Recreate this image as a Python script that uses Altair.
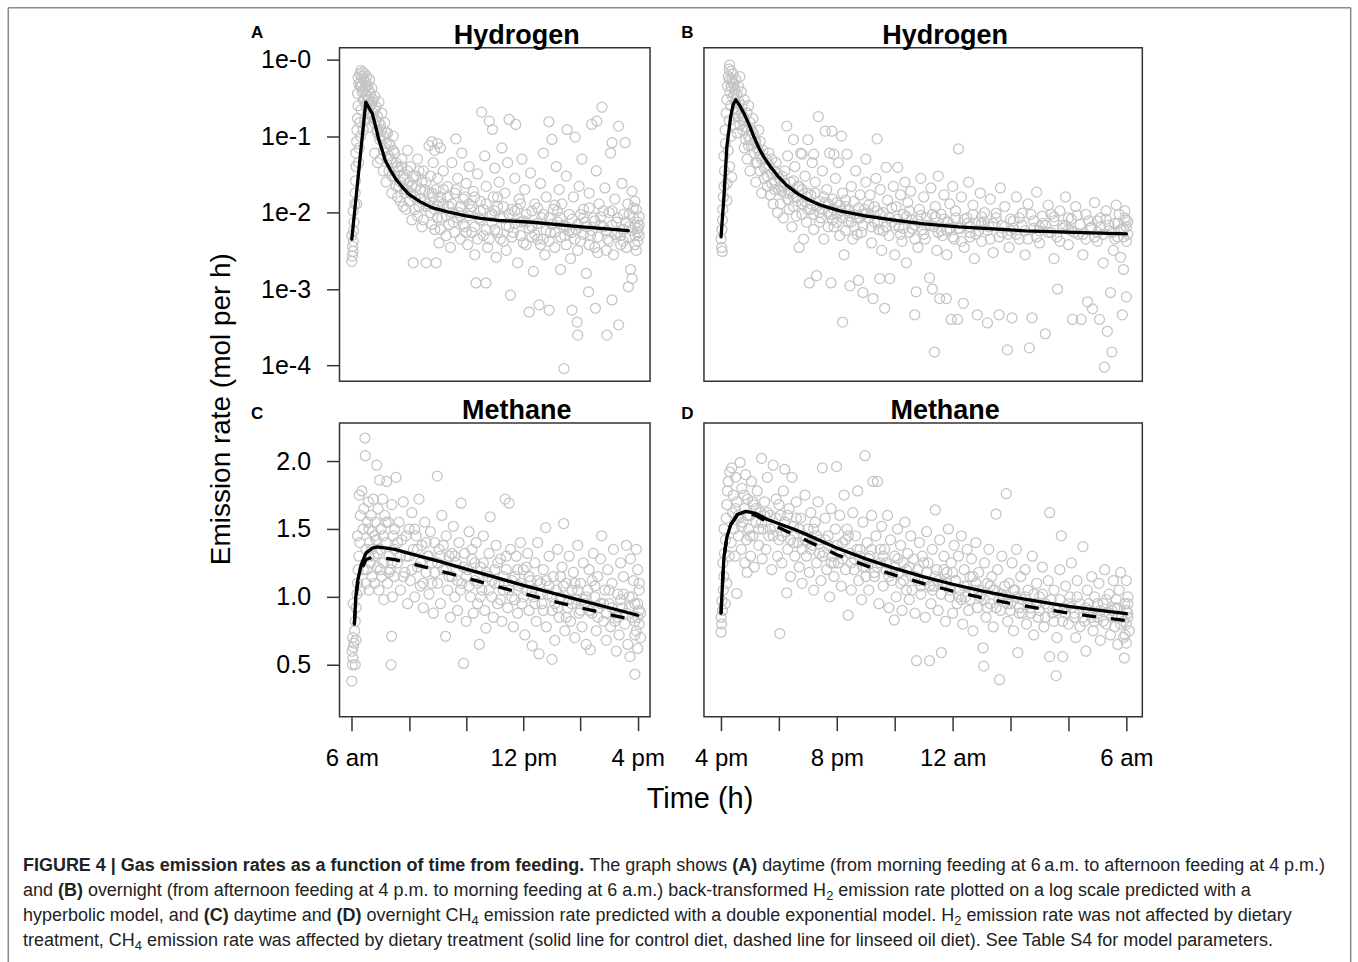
import altair as alt
import pandas as pd

FONT = "Liberation Sans"
FRAME = "#333333"
DOT = "#c4c4c4"

# ---------------- fitted model curves (hours after feeding, mol per h) ----------------
H2_DAY_FIT_HOURS = [0, 0.25, 0.49, 0.6, 0.72, 0.85, 0.95, 1.05, 1.17, 1.35, 1.53, 1.75, 1.99,
                    2.4, 2.8, 3.4, 3.96, 4.5, 5.12, 6.31, 8.05, 9.67]
H2_DAY_FIT_RATE = [0.0045, 0.037, 0.278, 0.235, 0.195, 0.126, 0.088, 0.068, 0.048, 0.036, 0.0277,
                   0.0219, 0.0174, 0.0138, 0.0116, 0.0101, 0.0091, 0.0084, 0.0079, 0.00747, 0.0065, 0.0058]

H2_NIGHT_FIT_HOURS = [0, 0.1, 0.2, 0.33, 0.42, 0.51, 0.65, 0.8, 0.97, 1.14, 1.3, 1.48, 1.7, 1.94,
                      2.25, 2.63, 3.0, 3.44, 4.1, 4.93, 5.91, 7.0, 8.22, 10.5, 12.2, 14.0]
H2_NIGHT_FIT_RATE = [0.0048, 0.016, 0.072, 0.177, 0.26, 0.298, 0.25, 0.195, 0.14, 0.097, 0.071,
                     0.053, 0.04, 0.0307, 0.023, 0.0178, 0.0148, 0.0125, 0.0105, 0.0091, 0.008,
                     0.0071, 0.0065, 0.00577, 0.0055, 0.00527]

CH4_DAY_FIT_HOURS = [0.09, 0.14, 0.2, 0.33, 0.5, 0.73, 0.9, 1.5, 2, 3, 4, 5, 6, 7, 8, 9, 10]
CH4_DAY_CONTROL = [0.8, 1.0, 1.115, 1.238, 1.324, 1.36, 1.368, 1.35, 1.32, 1.265, 1.205, 1.145,
                   1.085, 1.03, 0.975, 0.92, 0.865]
CH4_DAY_LINSEED = [0.8, 0.98, 1.09, 1.2, 1.275, 1.294, 1.293, 1.275, 1.25, 1.195, 1.14, 1.08,
                   1.025, 0.97, 0.92, 0.87, 0.825]

CH4_NIGHT_FIT_HOURS = [0, 0.05, 0.1, 0.2, 0.33, 0.56, 0.85, 1.2, 1.6, 2.5, 3, 4, 5, 6, 7, 8, 9,
                       10, 11, 12, 13, 14]
CH4_NIGHT_CONTROL = [0.88, 1.1, 1.29, 1.44, 1.53, 1.606, 1.63, 1.615, 1.57, 1.5, 1.455, 1.36,
                     1.28, 1.21, 1.148, 1.093, 1.045, 1.002, 0.965, 0.931, 0.902, 0.876]
CH4_NIGHT_LINSEED = [0.88, 1.1, 1.29, 1.44, 1.53, 1.6, 1.62, 1.6, 1.55, 1.46, 1.41, 1.31, 1.23,
                     1.16, 1.098, 1.043, 0.995, 0.952, 0.915, 0.881, 0.852, 0.826]

# ---------------- observations (hour, rate) ----------------
H2_DAY_OBS = [
    (0.0, 0.0023), (0.02, 0.0027), (0.04, 0.0031), (0.03, 0.0036), (0.05, 0.0042), (0.0, 0.005),
    (0.06, 0.0058), (0.08, 0.0075), (0.05, 0.0105), (0.1, 0.013), (0.12, 0.018), (0.13, 0.026),
    (0.15, 0.04), (0.14, 0.06), (0.17, 0.085), (0.18, 0.12), (0.2, 0.17), (0.22, 0.25), (0.2, 0.36),
    (0.24, 0.48), (0.22, 0.58), (0.28, 0.65), (0.32, 0.72), (0.35, 0.6), (0.38, 0.68), (0.42, 0.55),
    (0.45, 0.65), (0.3, 0.45), (0.36, 0.38), (0.4, 0.3), (0.33, 0.22), (0.28, 0.15), (0.3, 0.1),
    (0.26, 0.07), (0.24, 0.045), (0.45, 0.42), (0.48, 0.5), (0.5, 0.35), (0.52, 0.6), (0.55, 0.46),
    (0.58, 0.4), (0.6, 0.3), (0.62, 0.55), (0.65, 0.36), (0.5, 0.25), (0.55, 0.2), (0.45, 0.16),
    (0.6, 0.13), (0.4, 0.12), (0.17, 0.013),
    (0.7, 0.42), (0.72, 0.28), (0.75, 0.2), (0.78, 0.15), (0.8, 0.33), (0.85, 0.24), (0.88, 0.12),
    (0.9, 0.18), (0.95, 0.28), (0.98, 0.09), (1.0, 0.14), (1.05, 0.2), (1.1, 0.1), (1.1, 0.065),
    (1.15, 0.15), (1.2, 0.08), (1.25, 0.11), (1.3, 0.055), (1.3, 0.035), (1.35, 0.075), (1.4, 0.045),
    (1.45, 0.1), (0.8, 0.06), (0.9, 0.045), (1.0, 0.05), (1.2, 0.025), (1.4, 0.018), (1.5, 0.03),
    (1.5, 0.06),
    (1.6, 0.04), (1.65, 0.022), (1.7, 0.014), (1.75, 0.05), (1.8, 0.03), (1.85, 0.018), (1.9, 0.011),
    (1.95, 0.065), (2.0, 0.025), (2.05, 0.04), (2.1, 0.008), (2.15, 0.0022), (2.2, 0.016),
    (2.25, 0.03), (2.3, 0.05), (2.35, 0.012), (2.4, 0.02), (2.45, 0.0065), (2.5, 0.035),
    (2.55, 0.014), (2.6, 0.0022), (2.6, 0.025), (2.7, 0.075), (2.75, 0.01), (2.8, 0.018),
    (2.85, 0.045), (2.9, 0.006), (2.95, 0.0022), (3.0, 0.028), (3.0, 0.012), (2.9, 0.065),
    (3.05, 0.004), (2.8, 0.085), (3.1, 0.07), (3.0, 0.08),
    (3.1, 0.016), (3.15, 0.0085), (3.2, 0.035), (3.3, 0.005), (3.35, 0.022), (3.4, 0.012),
    (3.45, 0.0035), (3.5, 0.045), (3.55, 0.0075), (3.6, 0.018), (3.64, 0.092), (3.7, 0.028),
    (3.75, 0.01), (3.8, 0.0045), (3.85, 0.06), (3.9, 0.015), (3.95, 0.0065), (4.0, 0.024),
    (4.05, 0.0038), (4.1, 0.04), (4.15, 0.011), (4.2, 0.0055), (4.25, 0.019), (4.3, 0.0028),
    (4.34, 0.0012), (4.4, 0.032), (4.45, 0.0085), (4.5, 0.014), (4.54, 0.206), (4.6, 0.005),
    (4.65, 0.055), (4.69, 0.0012), (4.7, 0.022), (4.75, 0.0035), (4.81, 0.157), (4.85, 0.009),
    (4.92, 0.122), (4.95, 0.016), (5.0, 0.006), (5.0, 0.038),
    (5.05, 0.0026), (5.1, 0.012), (5.15, 0.025), (5.2, 0.0045), (5.25, 0.07), (5.3, 0.0085),
    (5.35, 0.018), (5.4, 0.0032), (5.45, 0.045), (5.5, 0.165), (5.55, 0.00083), (5.6, 0.011),
    (5.65, 0.0055), (5.7, 0.028), (5.73, 0.142), (5.8, 0.0022), (5.85, 0.015), (5.9, 0.0075),
    (5.95, 0.05), (6.0, 0.004), (6.05, 0.02), (6.1, 0.0095), (6.2, 0.0005), (6.25, 0.033),
    (6.3, 0.0065), (6.35, 0.0017), (6.4, 0.013), (6.5, 0.0045), (6.55, 0.00062), (6.6, 0.024),
    (6.65, 0.0085), (6.7, 0.06), (6.75, 0.0028), (6.8, 0.016), (6.89, 0.154), (6.9, 0.00053),
    (6.95, 0.0055), (7.0, 0.0905), (7.05, 0.011), (7.1, 0.0035), (7.15, 0.04), (7.2, 0.0075),
    (7.25, 0.02), (7.3, 0.0018), (7.35, 0.013), (7.42, 0.000091), (7.45, 0.005),
    (7.5, 0.03), (7.53, 0.122), (7.6, 0.0095), (7.65, 0.0025), (7.7, 0.00053), (7.75, 0.016),
    (7.81, 0.097), (7.85, 0.006), (7.88, 0.00037), (7.9, 0.00025), (7.95, 0.022), (8.0, 0.0042),
    (8.05, 0.05), (8.1, 0.011), (8.15, 0.0075), (8.2, 0.0016), (8.28, 0.00092), (8.3, 0.018),
    (8.35, 0.005), (8.39, 0.142), (8.45, 0.0085), (8.52, 0.00056), (8.55, 0.035), (8.57, 0.157),
    (8.6, 0.003), (8.65, 0.013), (8.75, 0.239), (8.8, 0.0065), (8.85, 0.021), (8.92, 0.00025),
    (8.95, 0.0045), (9.0, 0.01), (9.05, 0.06), (9.1, 0.00072), (9.1, 0.082), (9.15, 0.0028),
    (9.2, 0.015), (9.25, 0.0075), (9.33, 0.135), (9.33, 0.00034), (9.4, 0.005), (9.45, 0.024),
    (9.5, 0.0095), (9.56, 0.082), (9.6, 0.0035), (9.65, 0.013), (9.67, 0.00107), (9.7, 0.0065),
    (9.75, 0.0018), (9.8, 0.00137), (9.8, 0.019), (9.85, 0.0085), (9.9, 0.005), (9.95, 0.011),
    (10.0, 0.0055), (10.0, 0.0075), (9.95, 0.0032), (9.9, 0.014), (10.0, 0.0042),
    (1.1, 0.035), (1.25, 0.05), (1.4, 0.03), (1.55, 0.022), (1.6, 0.016), (1.7, 0.025), (1.8, 0.012),
    (1.9, 0.02), (2.0, 0.014), (2.1, 0.022), (2.2, 0.011), (2.3, 0.009), (2.4, 0.015), (2.5, 0.008),
    (2.6, 0.012), (2.7, 0.018), (2.8, 0.007), (2.9, 0.011), (3.0, 0.0085), (3.1, 0.006),
    (3.2, 0.013), (3.3, 0.009), (3.4, 0.007), (3.5, 0.01), (3.6, 0.0055), (3.7, 0.0085),
    (3.8, 0.012), (3.9, 0.007), (4.0, 0.0055), (4.1, 0.009), (4.2, 0.012), (4.3, 0.0065),
    (4.4, 0.0045), (4.5, 0.008), (4.6, 0.011), (4.7, 0.006), (4.8, 0.0045), (4.9, 0.0075),
    (5.0, 0.0105), (5.1, 0.0055), (5.2, 0.0085), (5.3, 0.0042), (5.4, 0.0068), (5.5, 0.0095),
    (5.6, 0.0048), (5.7, 0.0072), (5.8, 0.011), (5.9, 0.005), (6.0, 0.0078), (6.1, 0.0038),
    (6.2, 0.0062), (6.3, 0.0105), (6.4, 0.0052), (6.5, 0.0072), (6.6, 0.0038), (6.7, 0.0095),
    (6.8, 0.0058), (6.9, 0.0042), (7.0, 0.007), (7.1, 0.0055), (7.2, 0.0105), (7.3, 0.0048),
    (7.4, 0.0068), (7.5, 0.0038), (7.6, 0.0058), (7.7, 0.0082), (7.8, 0.0045), (7.9, 0.007),
    (8.0, 0.0095), (8.1, 0.0052), (8.2, 0.0065), (8.3, 0.0038), (8.4, 0.0058), (8.5, 0.0078),
    (8.6, 0.0048), (8.7, 0.0068), (8.8, 0.0105), (8.9, 0.0058), (9.0, 0.0042), (9.1, 0.0068),
    (9.2, 0.0052), (9.3, 0.0085), (9.4, 0.0038), (9.5, 0.006), (9.6, 0.0075), (9.7, 0.0048),
    (9.8, 0.0058), (9.9, 0.0068), (10.0, 0.0062), (10.05, 0.0088), (10.05, 0.005),
    (0.3, 0.5), (0.35, 0.45), (0.4, 0.4), (0.45, 0.3), (0.5, 0.45), (0.55, 0.3), (0.6, 0.2),
    (0.65, 0.25), (0.7, 0.18), (0.75, 0.3), (0.8, 0.22), (0.85, 0.16), (0.9, 0.11), (0.95, 0.15),
    (1.0, 0.1), (1.05, 0.12), (1.15, 0.07), (1.2, 0.11), (1.3, 0.08), (1.35, 0.05), (1.45, 0.065),
    (1.55, 0.045), (1.65, 0.035), (1.75, 0.04), (1.85, 0.028), (1.95, 0.035), (2.05, 0.018),
    (2.15, 0.03), (2.25, 0.022), (2.35, 0.035), (2.45, 0.025), (2.55, 0.02), (2.65, 0.013),
    (2.75, 0.03), (2.85, 0.016), (2.95, 0.02), (3.05, 0.014), (3.2, 0.02), (3.35, 0.016),
    (3.5, 0.013), (3.65, 0.02), (3.8, 0.009), (3.95, 0.016), (4.1, 0.013), (4.3, 0.016),
    (4.5, 0.0105), (4.7, 0.013), (4.9, 0.0095), (5.1, 0.016), (5.3, 0.012), (5.5, 0.0065),
    (5.7, 0.0105), (5.9, 0.013), (6.1, 0.0075), (6.3, 0.0048), (6.5, 0.0115), (6.7, 0.0045),
    (6.9, 0.0085), (7.1, 0.0125), (7.3, 0.0085), (7.5, 0.0065), (7.7, 0.0055), (7.9, 0.0032),
    (8.1, 0.0085), (8.3, 0.0115), (8.5, 0.0035), (8.7, 0.0088), (8.9, 0.0032), (9.1, 0.0105),
    (9.3, 0.0055), (9.5, 0.0042), (9.7, 0.0095), (9.9, 0.0038), (10.05, 0.0068), (9.85, 0.0115),
]

H2_NIGHT_OBS = [
    (0.0, 0.0045), (0.02, 0.0035), (0.04, 0.0031), (0.03, 0.006), (0.05, 0.008), (0.06, 0.011),
    (0.08, 0.016), (0.1, 0.022), (0.12, 0.035), (0.1, 0.055), (0.15, 0.08), (0.14, 0.12),
    (0.18, 0.2), (0.2, 0.3), (0.22, 0.45), (0.25, 0.6), (0.28, 0.75), (0.3, 0.85), (0.35, 0.7),
    (0.38, 0.55), (0.42, 0.65), (0.45, 0.48), (0.3, 0.38), (0.33, 0.25), (0.28, 0.16), (0.35, 0.1),
    (0.25, 0.065), (0.4, 0.32), (0.48, 0.4), (0.5, 0.55), (0.55, 0.35), (0.6, 0.45), (0.62, 0.28),
    (0.5, 0.2), (0.45, 0.14), (0.55, 0.11), (0.3, 0.04), (0.2, 0.024), (0.2, 0.0144), (0.37, 0.029),
    (0.65, 0.6), (0.7, 0.38), (0.72, 0.25), (0.75, 0.18), (0.8, 0.3), (0.85, 0.13), (0.9, 0.2),
    (0.95, 0.1), (1.0, 0.15), (1.05, 0.075), (1.1, 0.11), (1.15, 0.06), (1.2, 0.085), (1.25, 0.045),
    (1.3, 0.065), (1.35, 0.035), (1.4, 0.05), (1.5, 0.028), (1.55, 0.04), (1.6, 0.022), (1.65, 0.06),
    (1.7, 0.017), (1.75, 0.032), (1.8, 0.013), (1.85, 0.025), (1.9, 0.045), (1.95, 0.01), (2.0, 0.02),
    (0.8, 0.07), (0.9, 0.05), (1.0, 0.035), (1.2, 0.025), (1.4, 0.018), (1.3, 0.12), (1.1, 0.17),
    (0.95, 0.25),
    (2.05, 0.013), (2.1, 0.03), (2.15, 0.0085), (2.2, 0.018), (2.27, 0.135), (2.3, 0.055),
    (2.35, 0.011), (2.4, 0.025), (2.45, 0.0065), (2.5, 0.09), (2.5, 0.016), (2.55, 0.04),
    (2.6, 0.009), (2.65, 0.022), (2.7, 0.0035), (2.75, 0.06), (2.8, 0.013), (2.85, 0.0045),
    (2.9, 0.03), (2.95, 0.0075), (3.0, 0.09), (3.0, 0.018), (3.05, 0.0012), (3.1, 0.011),
    (3.15, 0.045), (3.2, 0.006), (3.25, 0.025), (3.3, 0.0015), (3.36, 0.18), (3.4, 0.014),
    (3.45, 0.0085), (3.5, 0.035), (3.55, 0.0045), (3.6, 0.116), (3.65, 0.02), (3.7, 0.01),
    (3.75, 0.06), (3.8, 0.0012), (3.83, 0.116), (3.85, 0.015), (3.9, 0.0065), (3.95, 0.028),
    (4.0, 0.0095), (4.05, 0.045), (4.1, 0.005), (4.16, 0.1), (4.2, 0.018), (4.2, 0.00037),
    (4.25, 0.0028), (4.3, 0.012), (4.35, 0.058), (4.4, 0.0075), (4.45, 0.0011), (4.5, 0.022),
    (4.55, 0.0045), (4.6, 0.014), (4.65, 0.035), (4.7, 0.0085), (4.75, 0.0013), (4.8, 0.017),
    (4.85, 0.0055), (4.9, 0.0009), (4.95, 0.011), (5.0, 0.05), (5.0, 0.025), (2.8, 0.058),
    (3.2, 0.058), (3.9, 0.058),
    (5.1, 0.0085), (5.15, 0.017), (5.2, 0.004), (5.25, 0.00075), (5.3, 0.012), (5.35, 0.028),
    (5.39, 0.092), (5.45, 0.006), (5.48, 0.00137), (5.5, 0.02), (5.55, 0.0032), (5.6, 0.01),
    (5.65, 0.00056), (5.7, 0.039), (5.75, 0.0145), (5.8, 0.005), (5.83, 0.00137), (5.9, 0.0075),
    (5.95, 0.022), (6.0, 0.0028), (6.05, 0.012), (6.1, 0.039), (6.15, 0.0065), (6.2, 0.017),
    (6.25, 0.0042), (6.3, 0.0095), (6.35, 0.025), (6.4, 0.0022), (6.45, 0.0135), (6.5, 0.0055),
    (6.55, 0.019), (6.6, 0.008), (6.69, 0.00046), (6.74, 0.00092), (6.8, 0.0035), (6.85, 0.011),
    (6.9, 0.028), (6.95, 0.006), (7.0, 0.016), (7.05, 0.0045), (7.1, 0.0085), (7.2, 0.0014),
    (7.25, 0.021), (7.3, 0.001), (7.35, 0.0065), (7.37, 0.00015), (7.4, 0.012), (7.45, 0.0032),
    (7.5, 0.03), (7.55, 0.00075), (7.6, 0.0095), (7.65, 0.005), (7.7, 0.017), (7.78, 0.00075),
    (7.8, 0.0028), (7.85, 0.0075), (7.9, 0.013), (7.95, 0.0004), (8.0, 0.022), (8.05, 0.0045),
    (8.1, 0.0105), (8.17, 0.0004), (8.2, 0.068), (8.25, 0.0062), (8.3, 0.016), (8.37, 0.00065),
    (8.4, 0.0035), (8.5, 0.0085), (8.55, 0.025), (8.6, 0.0055), (8.7, 0.0125), (8.75, 0.0025),
    (8.85, 0.00046), (8.9, 0.0075), (8.95, 0.018), (9.0, 0.0042), (9.1, 0.01), (9.2, 0.00036),
    (9.25, 0.0065), (9.3, 0.015), (9.4, 0.003), (9.5, 0.0085), (9.6, 0.00046), (9.65, 0.021),
    (9.7, 0.0055), (9.8, 0.012), (9.89, 0.00016), (9.95, 0.0035), (10.05, 0.00042), (10.1, 0.0078),
    (10.2, 0.016), (10.3, 0.0045), (10.4, 0.0098), (10.5, 0.0028), (10.6, 0.013), (10.65, 0.00017),
    (10.74, 0.00042), (10.8, 0.0062), (10.9, 0.0185), (11.0, 0.004), (11.1, 0.009), (11.2, 0.00026),
    (11.3, 0.0125), (11.4, 0.0055), (11.5, 0.0025), (11.62, 0.001), (11.7, 0.0105), (11.8, 0.0068),
    (11.9, 0.016), (12.0, 0.0038), (12.1, 0.0082), (12.14, 0.0004), (12.25, 0.012), (12.35, 0.0052),
    (12.44, 0.0004), (12.5, 0.0028), (12.6, 0.0095), (12.66, 0.00068), (12.75, 0.0062),
    (12.83, 0.00055), (12.9, 0.0135), (13.0, 0.0042), (13.07, 0.0004), (13.1, 0.0085),
    (13.2, 0.0022), (13.24, 0.000095), (13.3, 0.0105), (13.34, 0.00028), (13.4, 0.0058),
    (13.45, 0.0009), (13.5, 0.00015), (13.55, 0.0032), (13.6, 0.0072), (13.65, 0.0125),
    (13.7, 0.0048), (13.75, 0.0095), (13.8, 0.0026), (13.86, 0.00046), (13.9, 0.0062),
    (13.95, 0.0105), (14.0, 0.00079), (14.0, 0.0042), (14.0, 0.008), (13.9, 0.0018),
    (5.4, 0.0075), (6.7, 0.0068), (7.8, 0.0058), (9.0, 0.0072), (10.0, 0.0058), (11.0, 0.0065),
    (12.0, 0.006), (13.0, 0.0055), (8.6, 0.0048), (11.5, 0.0078),
    (1.2, 0.045), (1.35, 0.055), (1.5, 0.038), (1.6, 0.03), (1.75, 0.024), (1.85, 0.035),
    (2.0, 0.028), (2.1, 0.019), (2.2, 0.024), (2.3, 0.015), (2.4, 0.019), (2.5, 0.012), (2.6, 0.016),
    (2.7, 0.022), (2.8, 0.0095), (2.9, 0.014), (3.0, 0.011), (3.1, 0.017), (3.2, 0.0095),
    (3.3, 0.012), (3.4, 0.0075), (3.5, 0.011), (3.6, 0.0135), (3.7, 0.0065), (3.8, 0.0095),
    (3.9, 0.011), (4.0, 0.0075), (4.1, 0.0125), (4.2, 0.0085), (4.3, 0.0058), (4.4, 0.0105),
    (4.5, 0.0075), (4.6, 0.0095), (4.7, 0.0052), (4.8, 0.0085), (4.9, 0.0068), (5.0, 0.0098),
    (5.2, 0.0065), (5.4, 0.0105), (5.6, 0.0058), (5.8, 0.0085), (6.0, 0.0068), (6.2, 0.0052),
    (6.4, 0.0088), (6.6, 0.0062), (6.8, 0.0078), (7.0, 0.0052), (7.2, 0.0068), (7.4, 0.0088),
    (7.6, 0.0058), (7.8, 0.0075), (8.0, 0.0048), (8.2, 0.0062), (8.4, 0.0082), (8.6, 0.0065),
    (8.8, 0.0052), (9.0, 0.0088), (9.2, 0.0058), (9.4, 0.0072), (9.6, 0.0048), (9.8, 0.0065),
    (10.0, 0.0082), (10.2, 0.0052), (10.4, 0.0068), (10.6, 0.0045), (10.8, 0.0078), (11.0, 0.0058),
    (11.2, 0.0068), (11.4, 0.0095), (11.6, 0.0048), (11.8, 0.0062), (12.0, 0.0085), (12.2, 0.0055),
    (12.4, 0.007), (12.6, 0.0045), (12.8, 0.0065), (13.0, 0.0078), (13.2, 0.0052), (13.4, 0.0068),
    (13.6, 0.0045), (13.8, 0.006), (14.0, 0.0065), (14.05, 0.0052), (13.95, 0.0085),
    (0.3, 0.55), (0.35, 0.45), (0.4, 0.5), (0.45, 0.35), (0.5, 0.28), (0.55, 0.22), (0.6, 0.18),
    (0.65, 0.14), (0.7, 0.2), (0.75, 0.12), (0.8, 0.16), (0.85, 0.09), (0.9, 0.13), (0.95, 0.075),
    (1.0, 0.09), (1.05, 0.12), (1.15, 0.085), (1.25, 0.07), (1.35, 0.085), (1.45, 0.065),
    (1.55, 0.05), (1.65, 0.042), (1.75, 0.05), (1.85, 0.02), (1.95, 0.032), (2.05, 0.022),
    (2.2, 0.035), (2.35, 0.018), (2.5, 0.026), (2.65, 0.014), (2.8, 0.02), (2.95, 0.016),
    (3.1, 0.013), (3.25, 0.018), (3.4, 0.01), (3.55, 0.016), (3.7, 0.013), (3.85, 0.008),
    (4.0, 0.0135), (4.15, 0.0105), (4.3, 0.0145), (4.45, 0.009), (4.6, 0.0065), (4.75, 0.0115),
    (4.9, 0.0095), (5.1, 0.0125), (5.3, 0.0075), (5.5, 0.0095), (5.7, 0.0065), (5.9, 0.0115),
    (6.1, 0.0082), (6.3, 0.0062), (6.5, 0.0105), (6.7, 0.0045), (6.9, 0.0092), (7.1, 0.0068),
    (7.3, 0.0095), (7.5, 0.0055), (7.7, 0.0082), (7.9, 0.0062), (8.1, 0.0085), (8.3, 0.0042),
    (8.5, 0.0072), (8.7, 0.0095), (8.9, 0.0058), (9.1, 0.0075), (9.3, 0.0045), (9.5, 0.0098),
    (9.7, 0.0068), (9.9, 0.0052), (10.1, 0.0062), (10.3, 0.0085), (10.5, 0.0058), (10.7, 0.0095),
    (10.9, 0.0048), (11.1, 0.0072), (11.3, 0.0055), (11.5, 0.0088), (11.7, 0.0042), (11.9, 0.0068),
    (12.1, 0.0058), (12.3, 0.0092), (12.5, 0.0052), (12.7, 0.0078), (12.9, 0.0048), (13.1, 0.0065),
    (13.3, 0.0082), (13.5, 0.0055), (13.7, 0.0072), (13.9, 0.0048), (14.05, 0.0075),
]

CH4_DAY_OBS = [
    (0.0, 0.38), (0.02, 0.5), (0.04, 0.55), (0.01, 0.6), (0.05, 0.63), (0.08, 0.66), (0.03, 0.7),
    (0.1, 0.75), (0.12, 0.82), (0.15, 0.92), (0.05, 0.95), (0.18, 1.02), (0.2, 1.1), (0.22, 1.2),
    (0.25, 1.3), (0.2, 1.45), (0.28, 1.4), (0.3, 1.6), (0.26, 1.75), (0.3, 1.05), (0.12, 0.5),
    (0.15, 0.68),
    (0.35, 1.78), (0.4, 1.5), (0.42, 1.65), (0.46, 2.17), (0.47, 2.04), (0.5, 1.35), (0.52, 1.2),
    (0.55, 1.55), (0.58, 1.7), (0.6, 1.05), (0.62, 1.4), (0.65, 1.25), (0.68, 1.6), (0.7, 1.15),
    (0.72, 1.48), (0.75, 1.72), (0.78, 1.3), (0.8, 1.1), (0.82, 1.55), (0.85, 1.42), (0.87, 1.97),
    (0.9, 1.22), (0.92, 1.65), (0.95, 1.05), (0.97, 1.86), (1.0, 1.35), (1.02, 1.5), (1.05, 1.15),
    (1.08, 1.72), (1.1, 1.25), (1.12, 0.98), (1.15, 1.6), (1.2, 1.4), (1.22, 1.85), (1.25, 1.1),
    (1.28, 1.55), (1.3, 1.3), (1.35, 1.2), (1.37, 0.5), (1.39, 0.71), (1.4, 1.68), (1.42, 1.0),
    (1.45, 1.45), (1.48, 1.15), (1.5, 1.35), (1.55, 1.88),
    (1.6, 1.25), (1.65, 1.55), (1.7, 1.05), (1.75, 1.42), (1.8, 1.7), (1.85, 1.18), (1.9, 1.3),
    (1.95, 0.95), (2.0, 1.5), (2.05, 1.12), (2.1, 1.62), (2.15, 1.35), (2.2, 1.0), (2.25, 1.45),
    (2.3, 1.22), (2.35, 1.72), (2.4, 1.08), (2.45, 1.38), (2.5, 0.92), (2.55, 1.55), (2.6, 1.18),
    (2.65, 1.3), (2.7, 1.02), (2.75, 1.48), (2.8, 1.25), (2.85, 0.88), (2.9, 1.4), (2.99, 1.89),
    (3.0, 1.1), (3.05, 1.35), (3.1, 0.95), (3.15, 1.6), (3.2, 1.2), (3.28, 0.71), (3.3, 1.45),
    (3.35, 1.05), (3.4, 1.3), (3.45, 0.85), (3.5, 1.15),
    (3.55, 1.52), (3.6, 1.0), (3.65, 1.25), (3.7, 0.9), (3.75, 1.4), (3.82, 1.69), (3.85, 1.1),
    (3.91, 0.51), (3.95, 1.32), (4.0, 0.82), (4.05, 1.2), (4.1, 1.48), (4.15, 1.0), (4.2, 1.28),
    (4.25, 0.88), (4.3, 1.12), (4.35, 1.4), (4.4, 0.95), (4.46, 0.65), (4.5, 1.22), (4.55, 1.05),
    (4.6, 1.45), (4.65, 0.9), (4.69, 0.77), (4.75, 1.15), (4.8, 1.32), (4.84, 1.59), (4.9, 1.0),
    (4.95, 0.85), (5.0, 1.2), (5.05, 1.38), (5.1, 0.95), (5.15, 1.1), (5.2, 1.28), (5.25, 0.82),
    (5.3, 1.05), (5.36, 1.72), (5.4, 1.2), (5.45, 0.92), (5.5, 1.69), (5.55, 1.35), (5.6, 1.0),
    (5.65, 0.78), (5.7, 1.15), (5.75, 1.3), (5.8, 0.88), (5.85, 1.08), (5.9, 1.4), (5.95, 0.95),
    (6.0, 1.2), (6.05, 0.72), (6.1, 1.05), (6.15, 1.32), (6.2, 0.9), (6.25, 1.12), (6.31, 0.64),
    (6.35, 1.0), (6.4, 1.25), (6.45, 0.82), (6.5, 1.4), (6.55, 0.58), (6.6, 1.1), (6.65, 0.95),
    (6.7, 1.2), (6.78, 1.51), (6.8, 0.78), (6.85, 1.02), (6.9, 1.3), (7.0, 0.54), (7.0, 0.9),
    (7.05, 1.15), (7.1, 0.68), (7.15, 1.05), (7.2, 1.35), (7.25, 0.85), (7.3, 1.0), (7.35, 1.22),
    (7.41, 1.54), (7.45, 0.75), (7.5, 1.1), (7.55, 0.92), (7.6, 1.3), (7.65, 0.82), (7.7, 1.05),
    (7.75, 1.18), (7.8, 0.7), (7.85, 0.98), (7.9, 1.38), (7.95, 0.88),
    (8.0, 1.1), (8.05, 0.78), (8.1, 1.25), (8.15, 0.95), (8.2, 0.65), (8.25, 1.05), (8.3, 1.2),
    (8.34, 0.61), (8.4, 0.88), (8.45, 1.32), (8.5, 1.0), (8.55, 0.75), (8.6, 1.15), (8.65, 0.92),
    (8.7, 1.28), (8.74, 1.45), (8.8, 0.82), (8.85, 1.05), (8.9, 0.68), (8.95, 1.2), (9.0, 0.95),
    (9.05, 0.78), (9.1, 1.1), (9.15, 1.35), (9.2, 0.88), (9.25, 0.6), (9.3, 1.02), (9.35, 0.72),
    (9.4, 1.25), (9.45, 0.92), (9.5, 1.15), (9.55, 0.8), (9.6, 1.38), (9.65, 0.65), (9.7, 1.0),
    (9.73, 0.56), (9.75, 1.28), (9.8, 0.85), (9.85, 1.12), (9.9, 0.43), (9.9, 0.72), (9.95, 1.35),
    (10.0, 0.95), (10.0, 0.62), (10.05, 1.05), (10.05, 0.8), (10.1, 0.88), (10.0, 1.2),
    (9.95, 0.75), (10.1, 0.7),
    (0.6, 1.3), (0.8, 1.45), (1.0, 1.2), (1.2, 1.55), (1.4, 1.25), (1.6, 1.4), (1.8, 1.15),
    (2.0, 1.3), (2.2, 1.5), (2.4, 1.25), (2.6, 1.4), (2.8, 1.1), (3.0, 1.25), (3.2, 1.38),
    (3.4, 1.15), (3.6, 1.3), (3.8, 1.05), (4.0, 1.15), (4.2, 1.35), (4.4, 1.1), (4.6, 1.25),
    (4.8, 1.05), (5.0, 1.1), (5.2, 0.98), (5.4, 1.3), (5.6, 1.12), (5.8, 1.2), (6.0, 1.0),
    (6.2, 1.15), (6.4, 0.95), (6.6, 1.02), (6.8, 1.12), (7.0, 1.0), (7.2, 0.92), (7.4, 1.08),
    (7.6, 0.98), (7.8, 1.1), (8.0, 0.9), (8.2, 1.0), (8.4, 1.12), (8.6, 0.85), (8.8, 0.95),
    (9.0, 1.05), (9.2, 0.82), (9.4, 0.98), (9.6, 0.88), (9.8, 1.0), (10.0, 0.85), (10.05, 1.1),
    (9.9, 0.95),
    (0.4, 1.2), (0.5, 1.1), (0.6, 1.5), (0.7, 1.35), (0.9, 1.32), (1.1, 1.45), (1.3, 1.18),
    (1.5, 1.5), (1.7, 1.3), (1.9, 1.45), (2.1, 1.2), (2.3, 1.35), (2.5, 1.1), (2.7, 1.3),
    (2.9, 1.18), (3.1, 1.3), (3.3, 1.2), (3.5, 1.32), (3.7, 1.12), (3.9, 1.22), (4.1, 1.08),
    (4.3, 1.25), (4.5, 1.0), (4.7, 1.18), (4.9, 1.12), (5.1, 1.25), (5.3, 1.15), (5.5, 1.05),
    (5.7, 0.98), (5.9, 1.1), (6.1, 1.22), (6.3, 1.05), (6.5, 1.12), (6.7, 0.9), (6.9, 1.08),
    (7.1, 0.95), (7.3, 1.15), (7.5, 0.85), (7.7, 0.95), (7.9, 1.05), (8.1, 0.98), (8.3, 0.9),
    (8.5, 1.08), (8.7, 0.95), (8.9, 0.88), (9.1, 0.92), (9.3, 0.85), (9.5, 1.02), (9.7, 0.92),
    (9.9, 0.82), (10.05, 0.9),
]

CH4_NIGHT_OBS = [
    (0.0, 0.74), (0.02, 0.8), (0.0, 0.85), (0.05, 0.9), (0.03, 0.97), (0.08, 1.05), (0.1, 1.15),
    (0.06, 1.25), (0.12, 1.32), (0.15, 1.42), (0.1, 1.5), (0.18, 1.58), (0.2, 1.68), (0.22, 1.78),
    (0.25, 1.85), (0.3, 1.92), (0.37, 1.95), (0.35, 1.4), (0.28, 1.3), (0.4, 1.62), (0.42, 1.75),
    (0.45, 1.5), (0.5, 1.88), (0.48, 1.3), (0.54, 1.025), (0.2, 1.1), (0.15, 0.95),
    (0.55, 1.7), (0.6, 1.45), (0.62, 1.58), (0.66, 1.99), (0.7, 1.35), (0.72, 1.8), (0.75, 1.55),
    (0.8, 1.65), (0.82, 1.25), (0.85, 1.9), (0.88, 1.42), (0.9, 1.18), (0.92, 1.72), (0.95, 1.5),
    (1.0, 1.6), (1.02, 1.3), (1.05, 1.85), (1.1, 1.45), (1.12, 1.68), (1.15, 1.22), (1.2, 1.55),
    (1.25, 1.78), (1.3, 1.38), (1.35, 1.62), (1.4, 2.02), (1.42, 1.28), (1.45, 1.5), (1.5, 1.7),
    (1.55, 1.35), (1.6, 1.88), (1.65, 1.45), (1.7, 1.6), (1.75, 1.2), (1.8, 1.97), (1.85, 1.52),
    (1.9, 1.72), (1.95, 1.3), (2.0, 1.42), (2.03, 0.73),
    (2.05, 1.6), (2.1, 1.25), (2.15, 1.78), (2.2, 1.94), (2.25, 1.48), (2.27, 1.03), (2.3, 1.35),
    (2.35, 1.65), (2.4, 1.15), (2.45, 1.88), (2.5, 1.52), (2.55, 1.3), (2.6, 1.7), (2.65, 1.4),
    (2.7, 1.22), (2.75, 1.58), (2.8, 1.1), (2.85, 1.45), (2.9, 1.75), (2.95, 1.3), (3.0, 1.5),
    (3.05, 1.18), (3.1, 1.62), (3.15, 1.38), (3.2, 1.05), (3.25, 1.55), (3.3, 1.25), (3.35, 1.7),
    (3.4, 1.42), (3.45, 1.12), (3.5, 1.95), (3.55, 1.33), (3.6, 1.58), (3.65, 1.2), (3.7, 1.45),
    (3.75, 1.0), (3.8, 1.65), (3.85, 1.3), (3.9, 1.15), (3.95, 1.5), (3.99, 1.96),
    (4.05, 1.25), (4.1, 1.6), (4.15, 1.08), (4.2, 1.4), (4.25, 1.75), (4.3, 1.2), (4.35, 1.5),
    (4.39, 0.865), (4.45, 1.32), (4.5, 1.05), (4.55, 1.62), (4.6, 1.28), (4.65, 1.45), (4.72, 1.78),
    (4.75, 1.12), (4.8, 1.35), (4.85, 0.98), (4.9, 1.55), (4.97, 2.04), (5.0, 1.22), (5.05, 1.4),
    (5.1, 1.05), (5.15, 1.3), (5.2, 1.6), (5.25, 1.85), (5.3, 1.15), (5.35, 1.45), (5.4, 1.85),
    (5.45, 0.95), (5.5, 1.25), (5.55, 1.52), (5.6, 1.08), (5.65, 1.35), (5.7, 1.2), (5.75, 1.6),
    (5.8, 0.92), (5.85, 1.42), (5.9, 1.12), (5.98, 0.83), (6.0, 1.3), (6.05, 1.0), (6.1, 1.5),
    (6.15, 1.18), (6.2, 1.38), (6.25, 0.9), (6.3, 1.25), (6.35, 1.55), (6.4, 1.05), (6.45, 1.32),
    (6.5, 0.98), (6.55, 1.45), (6.6, 1.15), (6.65, 1.28), (6.7, 0.88), (6.75, 0.53), (6.8, 1.2),
    (6.85, 1.4), (6.9, 1.02), (6.95, 1.3),
    (7.0, 1.12), (7.05, 0.85), (7.1, 1.48), (7.15, 1.25), (7.2, 0.53), (7.25, 0.95), (7.3, 1.35),
    (7.35, 1.08), (7.4, 1.64), (7.45, 1.2), (7.5, 0.9), (7.55, 1.42), (7.61, 0.59), (7.65, 1.1),
    (7.7, 1.3), (7.75, 0.82), (7.8, 1.18), (7.85, 1.5), (7.9, 1.0), (7.95, 1.25), (8.0, 0.88),
    (8.05, 1.38), (8.1, 1.12), (8.15, 0.95), (8.2, 1.3), (8.25, 1.05), (8.3, 1.45), (8.35, 0.8),
    (8.4, 1.2), (8.45, 1.0), (8.5, 1.35), (8.55, 0.9), (8.6, 1.15), (8.65, 1.28), (8.7, 0.75),
    (8.75, 1.05), (8.8, 1.4), (8.85, 0.92), (8.9, 1.18), (8.95, 1.0), (9.05, 0.625), (9.07, 0.49),
    (9.1, 1.25), (9.15, 0.85), (9.2, 1.1), (9.25, 1.35), (9.3, 0.95), (9.35, 1.15), (9.4, 0.78),
    (9.45, 1.05), (9.5, 1.61), (9.55, 1.2), (9.62, 0.39), (9.65, 0.9), (9.7, 1.3), (9.75, 1.0),
    (9.85, 1.76), (9.9, 0.82), (9.95, 1.1),
    (10.0, 0.95), (10.05, 1.25), (10.1, 0.75), (10.15, 1.05), (10.2, 1.35), (10.25, 0.59),
    (10.3, 0.88), (10.35, 1.15), (10.4, 0.98), (10.5, 1.2), (10.55, 0.8), (10.6, 1.05), (10.7, 0.92),
    (10.75, 1.3), (10.8, 0.72), (10.9, 1.1), (10.95, 0.85), (11.0, 1.0), (11.1, 1.22), (11.15, 0.78),
    (11.2, 0.95), (11.3, 1.12), (11.35, 1.62), (11.35, 0.56), (11.45, 0.88), (11.5, 1.05),
    (11.57, 0.42), (11.6, 0.7), (11.7, 1.2), (11.75, 1.45), (11.8, 0.56), (11.85, 0.92), (11.9, 1.08),
    (12.0, 0.8), (12.05, 1.0), (12.1, 1.25), (12.2, 0.88), (12.25, 0.7), (12.3, 1.12), (12.4, 0.95),
    (12.5, 1.37), (12.55, 0.82), (12.6, 0.6), (12.65, 1.05), (12.7, 0.9), (12.8, 1.15), (12.85, 0.75),
    (12.9, 1.0), (13.0, 0.85), (13.05, 1.1), (13.1, 0.68), (13.2, 0.95), (13.25, 1.2), (13.3, 0.8),
    (13.4, 1.02), (13.45, 0.72), (13.5, 0.9), (13.55, 1.12), (13.6, 0.78), (13.65, 0.98),
    (13.7, 0.65), (13.75, 1.05), (13.8, 1.18), (13.85, 0.85), (13.9, 0.7), (13.93, 0.55),
    (13.95, 0.95), (14.0, 0.66), (14.0, 0.8), (14.05, 1.0), (14.05, 0.88), (14.1, 0.75), (14.0, 1.12),
    (0.6, 1.6), (0.8, 1.75), (1.0, 1.45), (1.2, 1.65), (1.4, 1.55), (1.6, 1.62), (1.8, 1.45),
    (2.0, 1.68), (2.2, 1.55), (2.4, 1.42), (2.6, 1.58), (2.8, 1.35), (3.0, 1.4), (3.2, 1.5),
    (3.4, 1.32), (3.6, 1.42), (3.8, 1.25), (4.0, 1.38), (4.2, 1.28), (4.4, 1.45), (4.6, 1.2),
    (4.8, 1.3), (5.0, 1.15), (5.2, 1.35), (5.4, 1.22), (5.6, 1.3), (5.8, 1.15), (6.0, 1.22),
    (6.2, 1.1), (6.4, 1.2), (6.6, 1.05), (6.8, 1.12), (7.0, 1.25), (7.2, 1.08), (7.4, 1.15),
    (7.6, 1.02), (7.8, 1.1), (8.0, 1.18), (8.2, 1.0), (8.4, 1.08), (8.6, 0.98), (8.8, 1.1),
    (9.0, 1.02), (9.2, 0.92), (9.4, 1.05), (9.6, 0.98), (9.8, 1.08), (10.0, 0.9), (10.2, 1.0),
    (10.4, 0.88), (10.6, 0.95), (10.8, 1.02), (11.0, 0.9), (11.2, 0.85), (11.4, 0.98), (11.6, 0.9),
    (11.8, 0.82), (12.0, 0.95), (12.2, 0.85), (12.4, 0.78), (12.6, 0.92), (12.8, 0.85), (13.0, 0.95),
    (13.2, 0.82), (13.4, 0.88), (13.6, 0.92), (13.8, 0.8), (14.0, 0.9), (14.05, 0.95), (13.95, 0.72),
    (0.5, 1.65), (0.7, 1.52), (0.9, 1.6), (1.1, 1.7), (1.3, 1.5), (1.5, 1.6), (1.7, 1.5),
    (1.9, 1.58), (2.1, 1.45), (2.3, 1.6), (2.5, 1.4), (2.7, 1.5), (2.9, 1.42), (3.1, 1.35),
    (3.3, 1.45), (3.5, 1.3), (3.7, 1.38), (3.9, 1.25), (4.1, 1.32), (4.3, 1.42), (4.5, 1.25),
    (4.7, 1.35), (4.9, 1.22), (5.1, 1.28), (5.3, 1.18), (5.5, 1.35), (5.7, 1.25), (5.9, 1.18),
    (6.1, 1.28), (6.3, 1.12), (6.5, 1.22), (6.7, 1.15), (6.9, 1.08), (7.1, 1.18), (7.3, 1.05),
    (7.5, 1.12), (7.7, 1.2), (7.9, 1.05), (8.1, 1.12), (8.3, 0.98), (8.5, 1.08), (8.7, 1.15),
    (8.9, 1.05), (9.1, 0.98), (9.3, 1.08), (9.5, 0.92), (9.7, 1.02), (9.9, 0.95), (10.1, 1.05),
    (10.3, 0.92), (10.5, 1.0), (10.7, 0.88), (10.9, 0.95), (11.1, 1.02), (11.3, 0.92), (11.5, 0.82),
    (11.7, 0.98), (11.9, 0.88), (12.1, 0.92), (12.3, 1.0), (12.5, 0.85), (12.7, 0.95), (12.9, 0.82),
    (13.1, 0.9), (13.3, 0.98), (13.5, 0.85), (13.7, 0.92), (13.9, 0.82), (14.05, 0.85),
]

# ---------------- caption: one list of (segment, style) per line ----------------
# style: "b" bold, "n" normal, "s" subscript
CAPTION = [
    [("FIGURE 4 | Gas emission rates as a function of time from feeding.", "b"),
     (" The graph shows ", "n"), ("(A)", "b"),
     (" daytime (from morning feeding at 6\u2009a.m. to afternoon feeding at 4 p.m.)", "n")],
    [("and ", "n"), ("(B)", "b"),
     (" overnight (from afternoon feeding at 4 p.m. to morning feeding at 6 a.m.) back-transformed H", "n"),
     ("2", "s"), (" emission rate plotted on a log scale predicted with a", "n")],
    [("hyperbolic model, and ", "n"), ("(C)", "b"), (" daytime and ", "n"), ("(D)", "b"),
     (" overnight CH", "n"), ("4", "s"),
     (" emission rate predicted with a double exponential model. H", "n"), ("2", "s"),
     (" emission rate was not affected by dietary", "n")],
    [("treatment, CH", "n"), ("4", "s"),
     (" emission rate was affected by dietary treatment (solid line for control diet, dashed line "
      "for linseed oil diet). See Table S4 for model parameters.", "n")],
]
CAPTION_BASELINES = [871, 896, 921, 946]
CAPTION_LEFT = 22
CAPTION_SIZE = 18
CAPTION_SUB_SIZE = 13

# Advance widths (1/1000 em) of Liberation Sans, used to chain caption segments
REGULAR_W = {}
for w, chars in [(191, "'"), (167, "\u2009"), (222, "ijl"), (260, "|"), (278, " ,./:;If[]t!"),
                 (333, "()-r"), (500, "Jckvxyzs"), (556, "0123456789abdeghnopquL?"),
                 (611, "FTZ"), (667, "ABEKPSVXY"), (722, "CDHNRUw"), (778, "GOQ"), (833, "Mm"),
                 (944, "W")]:
    for ch in chars:
        REGULAR_W[ch] = w
BOLD_W = {}
for w, chars in [(167, "\u2009"), (278, " ,.!/Iijl[]"), (280, "|"), (333, "()-:;ft"), (389, "r"),
                 (500, "z"), (556, "0123456789acehksvxyJ"), (611, "bdgnopquFLTZ"),
                 (667, "EPSVXY"), (722, "ABCDHKNRU"), (778, "GOQw"), (889, "m"), (833, "M"),
                 (944, "W")]:
    for ch in chars:
        BOLD_W[ch] = w


def width_of(s, size, bold):
    table = BOLD_W if bold else REGULAR_W
    return sum(table.get(ch, 556) for ch in s) * size / 1000.0


# ---------------- layout (pixels) ----------------
W_DAY, W_NIGHT = 311, 439
H_TOP, H_BOT = 334, 294
ORIGIN_X, ORIGIN_Y = 339, 46          # top-left corner of panel A's plot area
PAGE_W, PAGE_H = 1358, 962
DAY_X = [-0.43, 10.43]
NIGHT_X = [-0.59, 14.55]
H2_Y = [6.24e-5, 1.435]
CH4_Y = [0.118, 2.28]

ONE = pd.DataFrame({"k": [0]})


def frame(pairs):
    return pd.DataFrame(pairs, columns=["hour", "rate"])


def fit_frame(hours, rates):
    return pd.DataFrame({"hour": hours, "rate": rates})


def y_axis(kind):
    common = dict(tickSize=13, tickWidth=1.5, tickColor=FRAME, labelPadding=16, labelFontSize=25,
                  labelFont=FONT, labelColor="black", domain=False, grid=False, title=None,
                  labelOverlap=False)
    if kind == "log":
        return alt.Axis(values=[1, 0.1, 0.01, 0.001, 0.0001],
                        labelExpr="'1e-' + round(-log(datum.value) / LN10)", **common)
    return alt.Axis(values=[0.5, 1.0, 1.5, 2.0], format=".1f", **common)


def x_axis(values, expr):
    return alt.Axis(values=values, labelExpr=expr, tickSize=14, tickWidth=1.5, tickColor=FRAME,
                    labelPadding=35, labelBaseline="alphabetic", labelFontSize=24, labelFont=FONT,
                    labelColor="black", domain=False, grid=False, title=None, labelOverlap=False,
                    labelFlush=False)


def encodings(xdom, ydom, log, xaxis, yaxis):
    ys = alt.Scale(type="log", domain=ydom, nice=False) if log else \
        alt.Scale(domain=ydom, nice=False, zero=False)
    return dict(
        x=alt.X("hour:Q", scale=alt.Scale(domain=xdom, nice=False, zero=False), axis=xaxis),
        y=alt.Y("rate:Q", scale=ys, axis=yaxis),
    )


def text(txt, x, y, size, weight="normal", font=FONT, align="left", baseline="alphabetic",
         angle=0, color="black"):
    return alt.Chart(ONE).mark_text(
        text=txt, fontSize=size, fontWeight=weight, font=font, align=align,
        baseline=baseline, angle=angle, color=color,
    ).encode(x=alt.value(x), y=alt.value(y))


def rule(x, y, x2, y2, color, width):
    return alt.Chart(ONE).mark_rule(color=color, strokeWidth=width).encode(
        x=alt.value(x), y=alt.value(y), x2=alt.value(x2), y2=alt.value(y2))


def panel(obs, fits, xdom, ydom, log, xaxis, yaxis, width, height, title, letter, extra=()):
    enc = encodings(xdom, ydom, log, xaxis, yaxis)
    layers = list(extra[:1])
    layers.append(
        alt.Chart(frame(obs)).mark_point(shape="circle", filled=False, size=100, strokeWidth=1.25,
                                         color=DOT, opacity=1).encode(**enc)
    )
    for fit, dash in fits:
        kw = dict(color="black", strokeWidth=3.3, strokeJoin="round")
        if dash:
            kw.update(strokeDash=[14, 15], strokeCap="butt")
        else:
            kw.update(strokeCap="round")
        layers.append(alt.Chart(fit).mark_line(**kw).encode(**enc))
    layers.append(text(title, width / 2 + 22, -4, 27, weight="bold", align="center"))
    layers.append(text(letter, -82.5 if width == W_DAY else -16.5, -10 if height == H_TOP else -4,
                       17, weight="bold", align="center"))
    layers.extend(extra[1:])
    return alt.layer(*layers).properties(width=width, height=height)


# Elements placed in panel A's coordinate system: page extent, border, axis titles, caption
page = alt.Chart(ONE).mark_rect(opacity=0).encode(
    x=alt.value(-ORIGIN_X), x2=alt.value(PAGE_W - ORIGIN_X),
    y=alt.value(-ORIGIN_Y), y2=alt.value(PAGE_H - ORIGIN_Y))

decor = [page,
         rule(7.3 - ORIGIN_X, 6 - ORIGIN_Y, 7.3 - ORIGIN_X, PAGE_H - ORIGIN_Y, "#8a8a8a", 1.5),
         rule(1351.7 - ORIGIN_X, 6 - ORIGIN_Y, 1351.7 - ORIGIN_X, PAGE_H - ORIGIN_Y, "#8a8a8a", 1.5),
         rule(7.3 - ORIGIN_X, 6 - ORIGIN_Y, 1351.7 - ORIGIN_X, 6 - ORIGIN_Y, "#8a8a8a", 1.5),
         text("Emission rate (mol per h)", 221 - ORIGIN_X, 408 - ORIGIN_Y, 28, align="center",
              baseline="middle", angle=270),
         text("Time (h)", 700 - ORIGIN_X, 807 - ORIGIN_Y, 29, align="center")]

# chain the caption segments left to right; SVG drops edge spaces, so they only advance x
for line, baseline in zip(CAPTION, CAPTION_BASELINES):
    x = CAPTION_LEFT
    for seg, style in line:
        bold = style == "b"
        size = CAPTION_SUB_SIZE if style == "s" else CAPTION_SIZE
        lead = len(seg) - len(seg.lstrip(" "))
        x_draw = x + width_of(seg[:lead], size, bold)
        y = baseline + (4 if style == "s" else 0)
        decor.append(text(seg.strip(" "), x_draw - ORIGIN_X, y - ORIGIN_Y, size,
                          weight="bold" if bold else "normal", color="#222222"))
        x += width_of(seg, size, bold)

day_ticks = [0, 2, 4, 6, 8, 10]
night_ticks = [0, 2, 4, 6, 8, 10, 12, 14]
day_labels = "datum.value == 0 ? '6 am' : datum.value == 6 ? '12 pm' : datum.value == 10 ? '4 pm' : ''"
night_labels = ("datum.value == 0 ? '4 pm' : datum.value == 4 ? '8 pm' : "
                "datum.value == 8 ? '12 am' : datum.value == 14 ? '6 am' : ''")

panel_a = panel(H2_DAY_OBS, [(fit_frame(H2_DAY_FIT_HOURS, H2_DAY_FIT_RATE), False)],
                DAY_X, H2_Y, True, None, y_axis("log"), W_DAY, H_TOP, "Hydrogen", "A",
                extra=decor)
panel_b = panel(H2_NIGHT_OBS, [(fit_frame(H2_NIGHT_FIT_HOURS, H2_NIGHT_FIT_RATE), False)],
                NIGHT_X, H2_Y, True, None, None, W_NIGHT, H_TOP, "Hydrogen", "B")
panel_c = panel(CH4_DAY_OBS, [(fit_frame(CH4_DAY_FIT_HOURS, CH4_DAY_CONTROL), False),
                              (fit_frame(CH4_DAY_FIT_HOURS, CH4_DAY_LINSEED), True)],
                DAY_X, CH4_Y, False, x_axis(day_ticks, day_labels), y_axis("linear"),
                W_DAY, H_BOT, "Methane", "C")
panel_d = panel(CH4_NIGHT_OBS, [(fit_frame(CH4_NIGHT_FIT_HOURS, CH4_NIGHT_CONTROL), False),
                                (fit_frame(CH4_NIGHT_FIT_HOURS, CH4_NIGHT_LINSEED), True)],
                NIGHT_X, CH4_Y, False, x_axis(night_ticks, night_labels), None,
                W_NIGHT, H_BOT, "Methane", "D")

chart = alt.concat(
    panel_a, panel_b, panel_c, panel_d, columns=2,
    spacing={"row": 42, "column": 54}, bounds="flush",
).properties(padding=0, background="white").configure_view(stroke=FRAME, strokeWidth=1.5)

chart.save("out.html", embed_options={"renderer": "svg", "actions": False})
